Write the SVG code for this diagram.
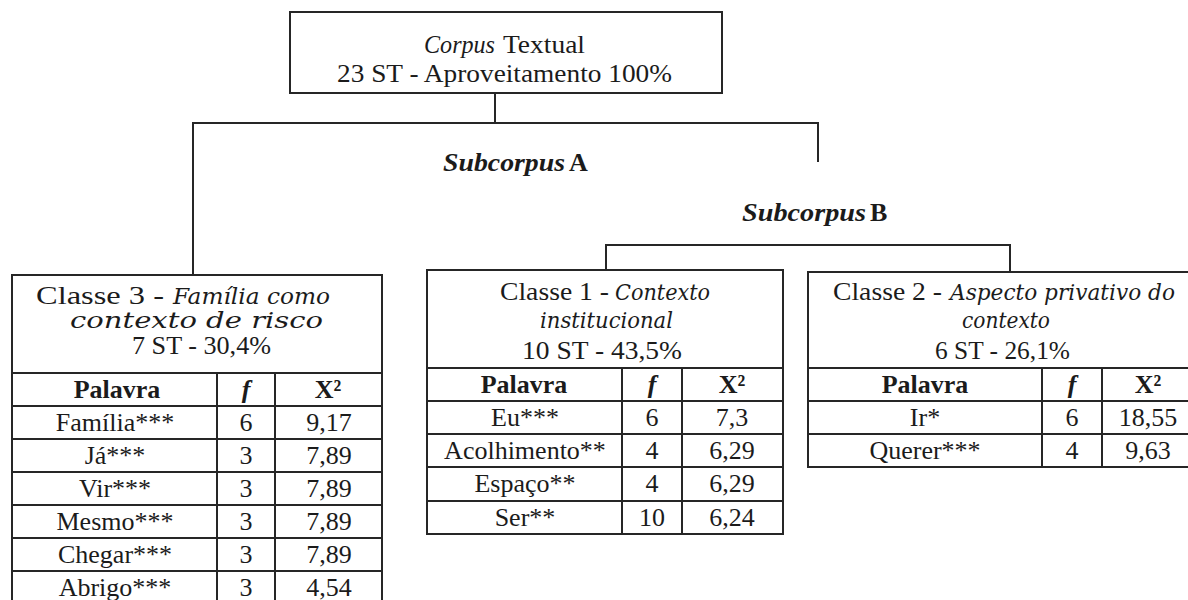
<svg xmlns="http://www.w3.org/2000/svg" width="1188" height="600" viewBox="0 0 1188 600">
  <style>
    text { font-family: "Times New Roman", "Liberation Serif", "DejaVu Serif", serif; font-size: 26px; fill: #1b1b1b; text-anchor: middle; }
    .l { text-anchor: start; }
    .it { font-style: italic; }
    .wi { font-family: "DejaVu Serif", "Liberation Serif", serif; font-style: italic; font-size: 23px; text-anchor: start; }
    .b { font-weight: bold; }
    .bi { font-weight: bold; font-style: italic; }
    .box { fill: #ffffff; stroke: #262626; stroke-width: 2; }
    .grid { stroke: #262626; stroke-width: 2; fill: none; }
    .link { stroke: #262626; stroke-width: 2; fill: none; }
  </style>
  <rect width="1188" height="600" fill="#ffffff"/>

  <!-- tree connectors -->
  <g id="connectors">
    <path class="link" d="M495 93 V123"/>
    <path class="link" d="M193 275 V123 H818 V162"/>
    <path class="link" d="M606 270 V245 H1010 V272"/>
  </g>

  <!-- root -->
  <g id="corpus">
    <rect class="box" x="290" y="12" width="432" height="81"/>
    <text class="l it" x="424" y="53" textLength="71" lengthAdjust="spacingAndGlyphs">Corpus</text>
    <text class="l" x="503" y="53" textLength="82" lengthAdjust="spacingAndGlyphs">Textual</text>
    <text class="l" x="337" y="82" textLength="335" lengthAdjust="spacingAndGlyphs">23 ST - Aproveitamento  100%</text>
  </g>

  <g id="subcorpus-a">
    <text class="l bi" x="443" y="171" textLength="122" lengthAdjust="spacingAndGlyphs">Subcorpus</text>
    <text class="l b" x="569" y="171">A</text>
  </g>
  <g id="subcorpus-b">
    <text class="l bi" x="742" y="221" textLength="124" lengthAdjust="spacingAndGlyphs">Subcorpus</text>
    <text class="l b" x="870" y="221">B</text>
  </g>

  <!-- Classe 3 -->
  <g id="classe3">
    <rect class="box" x="12" y="275" width="370" height="340"/>
    <text class="l" x="36" y="304" textLength="128" lengthAdjust="spacingAndGlyphs">Classe 3 -</text>
    <text class="wi" x="173" y="304" textLength="157" lengthAdjust="spacingAndGlyphs">Família como</text>
    <text class="wi" x="70" y="328" style="font-size:23px" textLength="253" lengthAdjust="spacingAndGlyphs">contexto de risco</text>
    <text class="l" x="132" y="354" textLength="139" lengthAdjust="spacingAndGlyphs">7 ST - 30,4%</text>
    <path class="grid" d="M12 373 H382 M12 406 H382 M12 439 H382 M12 472 H382 M12 505 H382 M12 538 H382 M12 571 H382 M217 373 V615 M275 373 V615"/>
    <text x="117" y="398" class="b">Palavra</text>
    <text x="246" y="398" class="bi">f</text>
    <text x="328" y="398" class="b">X²</text>
    <text x="115" y="431">Família***</text><text x="246" y="431">6</text><text x="329" y="431">9,17</text>
    <text x="115" y="464">Já***</text><text x="246" y="464">3</text><text x="329" y="464">7,89</text>
    <text x="115" y="497">Vir***</text><text x="246" y="497">3</text><text x="329" y="497">7,89</text>
    <text x="115" y="530">Mesmo***</text><text x="246" y="530">3</text><text x="329" y="530">7,89</text>
    <text x="115" y="563">Chegar***</text><text x="246" y="563">3</text><text x="329" y="563">7,89</text>
    <text x="115" y="596">Abrigo***</text><text x="246" y="596">3</text><text x="329" y="596">4,54</text>
  </g>

  <!-- Classe 1 -->
  <g id="classe1">
    <rect class="box" x="427" y="270" width="356" height="264"/>
    <text class="l" x="500" y="300" textLength="109" lengthAdjust="spacingAndGlyphs">Classe 1 -</text>
    <text class="wi" x="615" y="300" textLength="95" lengthAdjust="spacingAndGlyphs">Contexto</text>
    <text class="wi" x="540" y="328" textLength="133" lengthAdjust="spacingAndGlyphs">institucional</text>
    <text class="l" x="522" y="359" textLength="160" lengthAdjust="spacingAndGlyphs">10 ST - 43,5%</text>
    <path class="grid" d="M427 368 H783 M427 401 H783 M427 434 H783 M427 467 H783 M427 501 H783 M622 368 V534 M682 368 V534"/>
    <text x="524" y="393" class="b">Palavra</text>
    <text x="652" y="393" class="bi">f</text>
    <text x="732" y="393" class="b">X²</text>
    <text x="525" y="426">Eu***</text><text x="652" y="426">6</text><text x="732" y="426">7,3</text>
    <text x="525" y="459">Acolhimento**</text><text x="652" y="459">4</text><text x="732" y="459">6,29</text>
    <text x="525" y="492">Espaço**</text><text x="652" y="492">4</text><text x="732" y="492">6,29</text>
    <text x="525" y="526">Ser**</text><text x="652" y="526">10</text><text x="732" y="526">6,24</text>
  </g>

  <!-- Classe 2 -->
  <g id="classe2">
    <rect class="box" x="808" y="272" width="390" height="195"/>
    <text class="l" x="833" y="300" textLength="109" lengthAdjust="spacingAndGlyphs">Classe 2 -</text>
    <text class="wi" x="950" y="300" textLength="225" lengthAdjust="spacingAndGlyphs">Aspecto privativo do</text>
    <text class="wi" x="962" y="328" textLength="88" lengthAdjust="spacingAndGlyphs">contexto</text>
    <text class="l" x="935" y="359" textLength="135" lengthAdjust="spacingAndGlyphs">6 ST - 26,1%</text>
    <path class="grid" d="M808 368 H1198 M808 401 H1198 M808 434 H1198 M1042 368 V467 M1102 368 V467"/>
    <text x="925" y="393" class="b">Palavra</text>
    <text x="1072" y="393" class="bi">f</text>
    <text x="1148" y="393" class="b">X²</text>
    <text x="925" y="426">Ir*</text><text x="1072" y="426">6</text><text x="1148" y="426">18,55</text>
    <text x="925" y="459">Querer***</text><text x="1072" y="459">4</text><text x="1148" y="459">9,63</text>
  </g>
</svg>
